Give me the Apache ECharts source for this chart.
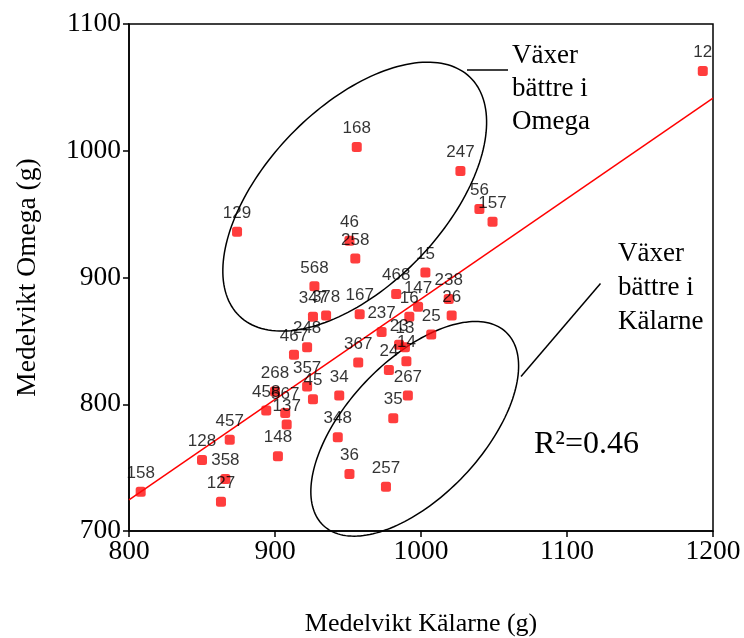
<!DOCTYPE html>
<html><head><meta charset="utf-8">
<script src="https://cdn.jsdelivr.net/npm/echarts@6/dist/echarts.min.js"></script>
<style>html,body{margin:0;padding:0;background:#fff}#c{width:744px;height:638px}</style>
</head><body><div id="c"></div>
<script>
// ---- data ----
const ids     = ['12','168','247','56','157','129','46','258','15','568','468','238','147','26','347','378','167','16','237','25','23','13','248','467','367','14','24','357','268','45','34','267','458','567','137','35','348','36','257','457','128','358','127','158','148'];
const kalarne = [1193,956,1027,1040,1049,874,951,955,1003,927,983,1019,998,1021,926,935,958,992,973,1007,985,989,922,913,957,990,978,922,900,926,944,991,894,907,908,981,943,951,976,869,850,866,863,808,902];
const omega   = [1063,1003,984,954,944,936,929,915,904,893,887,883,877,870,869,870,871,869,857,855,847,845,845,839,833,834,827,814,810,804,807,807,795,793,784,789,774,745,735,772,756,741,723,731,759];
const xTicks = [800, 900, 1000, 1100, 1200];
const yTicks = [700, 800, 900, 1000, 1100];
const trendX = [800, 1200];
const trendY = [724.5, 1041.5];
const r2Label = 'R²=0.46';
const xTitle = 'Medelvikt Kälarne (g)';
const yTitle = 'Medelvikt Omega (g)';
const noteOmega = ['Växer', 'bättre i', 'Omega'];
const noteKalarne = ['Växer', 'bättre i', 'Kälarne'];

// ---- annotation geometry (ellipses: centre in data units) ----
const ellipseCentres = [[954.6, 963.8], [995.7, 780.6]];
const ellipseShape = [{a:166, b:89, angle:46}, {a:133, b:68, angle:46.6}];

const serif = '"Liberation Serif","Times New Roman",serif';
const sans = '"Liberation Sans",Arial,sans-serif';

const chart = echarts.init(document.getElementById('c'), null, {renderer:'canvas'});

const scatterData = kalarne.map((x, i) => [x, omega[i], ids[i]]);
const trendData = trendX.map((x, i) => [x, trendY[i]]);

function ellipseItem(params, api) {
  const c = api.coord([api.value(0), api.value(1)]);
  const s = ellipseShape[params.dataIndex];
  const th = s.angle * Math.PI / 180;
  const pts = [];
  for (let k = 0; k < 180; k++) {
    const t = k / 180 * Math.PI * 2;
    const ex = s.a * Math.cos(t), ey = s.b * Math.sin(t);
    pts.push([c[0] + ex * Math.cos(th) - ey * Math.sin(th),
              c[1] - (ex * Math.sin(th) + ey * Math.cos(th))]);
  }
  return {type:'polygon', shape:{points:pts}, style:{fill:'none', stroke:'#000', lineWidth:1.5}};
}

function textLines(lines, left, firstCentre, step, size) {
  return lines.map((t, i) => ({
    type:'text', left: left, top: firstCentre + i * step - size * 0.55,
    style:{text:t, font: size + 'px ' + serif, fill:'#000'}
  }));
}

const option = {
  animation:false,
  backgroundColor:'#fff',
  grid:{left:129, right:31, top:24, bottom:107, show:true, borderColor:'#000', borderWidth:1.5,
        containLabel:false, outerBoundsMode:'none'},
  xAxis:{
    type:'value', min:xTicks[0], max:xTicks[xTicks.length-1], interval:100,
    axisLine:{show:true, lineStyle:{color:'#000', width:1.5}},
    axisTick:{show:true, length:6, lineStyle:{color:'#000', width:1.5}},
    splitLine:{show:false},
    axisLabel:{fontFamily:serif, fontSize:27.5, color:'#000', margin:7, formatter:v => String(v)},
    name:xTitle, nameLocation:'middle', nameGap:80,
    nameTextStyle:{fontFamily:serif, fontSize:26, color:'#000'}
  },
  yAxis:{
    type:'value', min:yTicks[0], max:yTicks[yTicks.length-1], interval:100,
    axisLine:{show:true, lineStyle:{color:'#000', width:1.5}},
    axisTick:{show:true, length:6, lineStyle:{color:'#000', width:1.5}},
    splitLine:{show:false},
    axisLabel:{fontFamily:serif, fontSize:27.5, color:'#000', margin:8, formatter:v => String(v)},
    name:yTitle, nameLocation:'middle', nameGap:87,
    nameTextStyle:{fontFamily:serif, fontSize:27.5, color:'#000'}
  },
  series:[
    {type:'line', data:trendData, symbol:'none', lineStyle:{color:'#ff0000', width:1.5}, z:1, silent:true},
    {type:'custom', data:ellipseCentres, renderItem:ellipseItem, clip:false, z:2, silent:true},
    {type:'scatter', data:scatterData, symbol:'roundRect', symbolSize:10,
     itemStyle:{color:'#ff0d0d'}, z:3,
     label:{show:true, position:'top', distance:5, formatter:p => p.value[2],
            fontFamily:sans, fontSize:17, color:'#000'}}
  ],
  graphic:[
    ...textLines(noteOmega, 512, 57.5, 33, 27),
    ...textLines(noteKalarne, 618, 255.5, 34, 27),
    {type:'text', left:534, top:445.7 - 32*0.55, style:{text:r2Label, font:'32px ' + serif, fill:'#000'}},
    {type:'line', shape:{x1:467, y1:70, x2:508, y2:70}, style:{stroke:'#000', lineWidth:1.5}},
    {type:'line', shape:{x1:600.5, y1:283.5, x2:521, y2:376.5}, style:{stroke:'#000', lineWidth:1.5}}
  ]
};
chart.setOption(option);
</script>
</body></html>
